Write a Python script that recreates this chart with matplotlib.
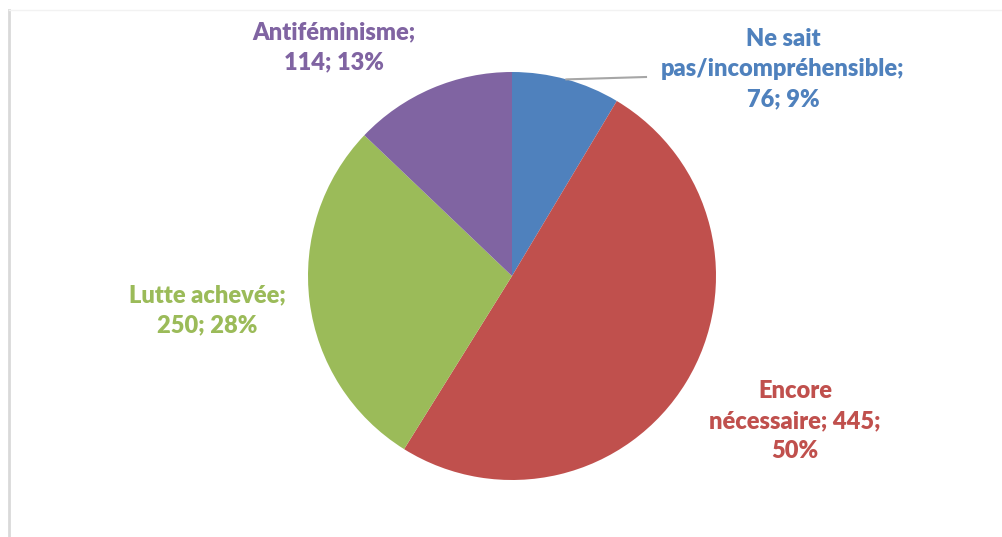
import numpy as np
import matplotlib
matplotlib.use("Agg")
import matplotlib.pyplot as plt
from matplotlib.lines import Line2D

# Survey answers, clockwise from 12 o'clock
categories = ["Ne sait pas/incompréhensible", "Encore nécessaire", "Lutte achevée", "Antiféminisme"]
counts = [76, 445, 250, 114]
colors = ["#4F81BD", "#C0504D", "#9BBB59", "#8064A2"]
# label layouts: {v} = count, {p} = percent
label_templates = [
    "Ne sait\npas/incompréhensible;\n{v}; {p}%",
    "Encore\nnécessaire; {v};\n{p}%",
    "Lutte achevée;\n{v}; {p}%",
    "Antiféminisme;\n{v}; {p}%",
]
label_centers = [(783, 69), (795, 421), (207, 310), (334, 47)]  # pixel positions (x, y from top)

W, H = 1003, 537
fig = plt.figure(figsize=(W / 100, H / 100), dpi=100)
ax = fig.add_axes([0, 0, 1, 1])

cx, cy, r = 512, H - 276, 204
ax.pie(counts, colors=colors, startangle=90, counterclock=False,
       center=(cx, cy), radius=r, frame=True,
       wedgeprops=dict(linewidth=0))
ax.set_xlim(0, W)
ax.set_ylim(0, H)
ax.set_aspect("equal")
ax.axis("off")

total = sum(counts)
for tmpl, v, col, (lx, ly) in zip(label_templates, counts, colors, label_centers):
    pct = round(v / total * 100)
    ax.text(lx, H - ly, tmpl.format(v=v, p=pct), color=col, fontsize=17,
            fontweight="heavy", family="Lato", ha="center", va="center",
            linespacing=1.46)

# leader line for the first slice, from the middle of its outer arc
mid = np.deg2rad(90 - counts[0] / total * 360 / 2)
x0, y0 = cx + r * np.cos(mid), cy + r * np.sin(mid)
ax.add_line(Line2D([x0, 646], [y0, H - 77], color="#A6A6A6", lw=1.5))

# chart-area frame edges
fig.add_artist(Line2D([9 / W, 9 / W], [0, 1 - 10 / H], color="#D9D9D9", lw=2,
                      transform=fig.transFigure))
fig.add_artist(Line2D([9 / W, 1], [1 - 10 / H, 1 - 10 / H], color="#F2F2F2", lw=1,
                      transform=fig.transFigure))

fig.savefig("out.png", dpi=100, facecolor="white")
